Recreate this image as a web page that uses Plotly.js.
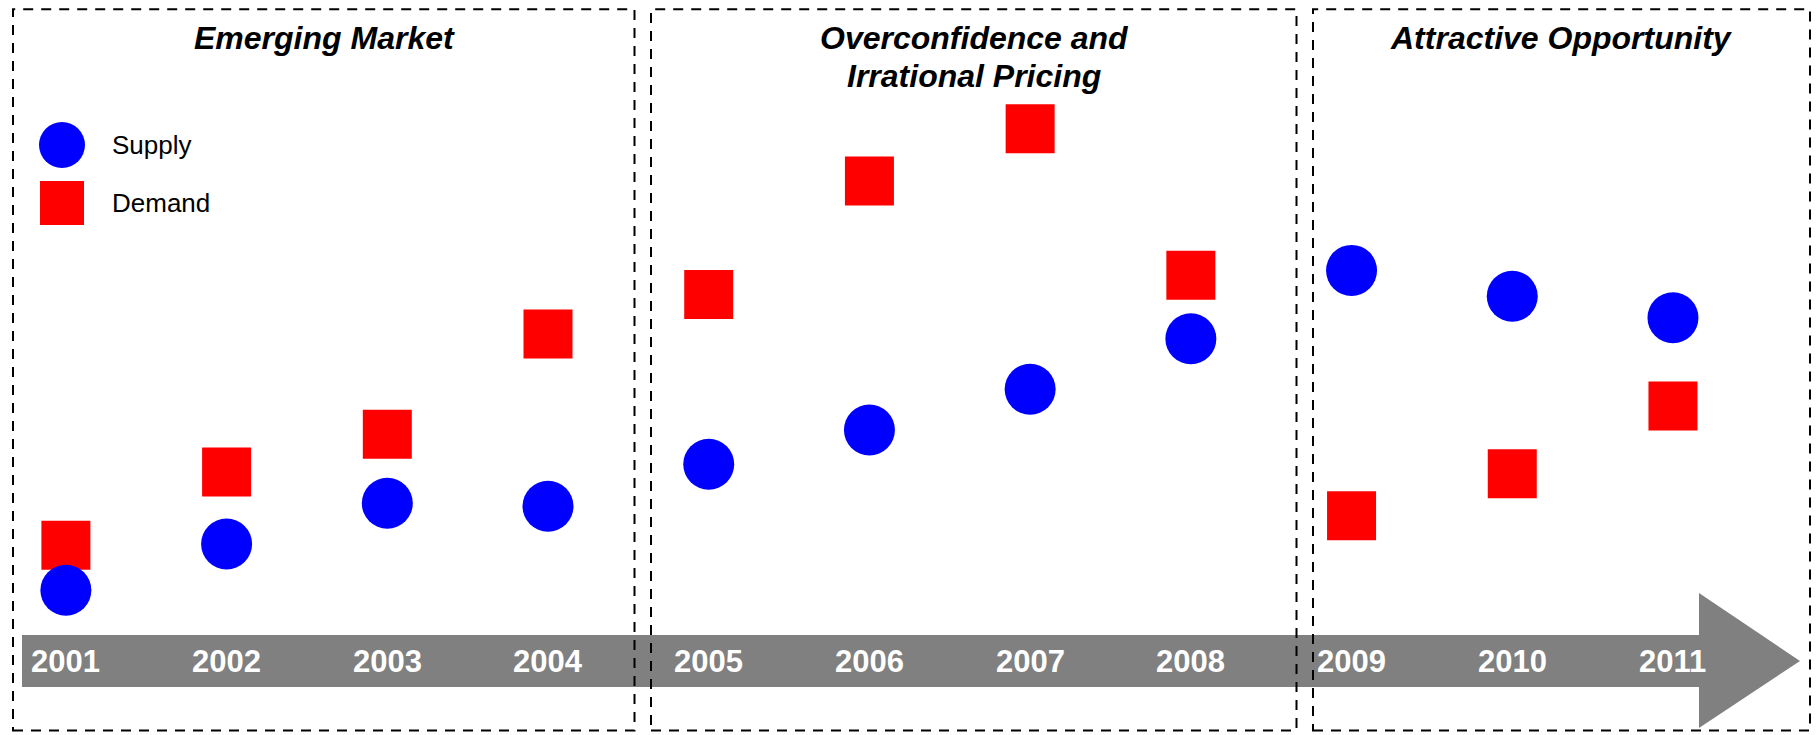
<!DOCTYPE html>
<html>
<head>
<meta charset="utf-8">
<script src="https://cdn.plot.ly/plotly-3.0.1.min.js"></script>
<style>
  html, body { margin: 0; padding: 0; background: #ffffff; }
  #chart { width: 1816px; height: 735px; }
</style>
</head>
<body>
<div id="chart"></div>
<script>
// ---- data ----
const years = [2001, 2002, 2003, 2004, 2005, 2006, 2007, 2008, 2009, 2010, 2011];
const yearLabels = ["2001", "2002", "2003", "2004", "2005", "2006", "2007", "2008", "2009", "2010", "2011"];
const supply = [18.3, 26, 32.8, 32.3, 39.3, 45, 51.8, 60.2, 71.6, 67.3, 63.7];
const demand = [25.8, 38, 44.3, 61, 67.6, 86.5, 95.2, 70.8, 30.7, 37.7, 49];
const phaseTitles = ["Emerging Market", "Overconfidence and", "Irrational Pricing", "Attractive Opportunity"];
const seriesNames = ["Supply", "Demand"];

// ---- layout helpers (pixel -> paper) ----
const W = 1816, H = 735;
const PX = x => x / W;
const PY = y => 1 - y / H;

const FONT = "Arial, 'Liberation Sans', sans-serif";

const traces = [
  {
    type: "scatter", mode: "markers", name: seriesNames[1],
    x: years, y: demand,
    marker: { symbol: "square", size: 49, color: "#FF0000", line: { width: 0 } },
    showlegend: false, hoverinfo: "skip"
  },
  {
    type: "scatter", mode: "markers", name: seriesNames[0],
    x: years, y: supply,
    marker: { symbol: "circle", size: 51, color: "#0000FF", line: { width: 0 } },
    showlegend: false, hoverinfo: "skip"
  }
];

const dashLine = { color: "#000000", width: 2, dash: "10px,8px" };

const boxes = [
  [13, 9.3, 634.5, 730.5],
  [651, 9.3, 1296.5, 730.5],
  [1313, 9.3, 1810, 730.5]
];

const shapes = [];
// timeline arrow
shapes.push({
  type: "path", xref: "paper", yref: "paper", layer: "below",
  path: `M ${PX(22)},${PY(635)} L ${PX(1699)},${PY(635)} L ${PX(1699)},${PY(593)} L ${PX(1800)},${PY(661)} L ${PX(1699)},${PY(728)} L ${PX(1699)},${PY(687)} L ${PX(22)},${PY(687)} Z`,
  fillcolor: "#808080", line: { width: 0 }
});
// dashed phase boxes
boxes.forEach(b => shapes.push({
  type: "rect", xref: "paper", yref: "paper", layer: "below",
  x0: PX(b[0]), x1: PX(b[2]), y0: PY(b[3]), y1: PY(b[1]),
  fillcolor: "rgba(0,0,0,0)", line: dashLine
}));
// legend swatches
shapes.push({
  type: "circle", xref: "paper", yref: "paper",
  x0: PX(62 - 23), x1: PX(62 + 23), y0: PY(145 + 23), y1: PY(145 - 23),
  fillcolor: "#0000FF", line: { width: 0 }
});
shapes.push({
  type: "rect", xref: "paper", yref: "paper",
  x0: PX(62 - 22), x1: PX(62 + 22), y0: PY(203 + 22), y1: PY(203 - 22),
  fillcolor: "#FF0000", line: { width: 0 }
});

const annotations = [];
// year labels on the arrow
years.forEach((yr, i) => annotations.push({
  x: yr, xref: "x", y: PY(661), yref: "paper",
  text: yearLabels[i], showarrow: false, xanchor: "center", yanchor: "middle",
  font: { family: FONT, size: 31, color: "#FFFFFF", weight: "bold" }
}));
// phase titles
const titlePos = [[324, 38], [974, 38], [974, 76], [1561, 38]];
phaseTitles.forEach((t, i) => annotations.push({
  x: PX(titlePos[i][0]), xref: "paper", y: PY(titlePos[i][1]), yref: "paper",
  text: t, showarrow: false, xanchor: "center", yanchor: "middle",
  font: { family: FONT, size: 32, color: "#000000", weight: "bold", style: "italic" }
}));
// legend labels
[[seriesNames[0], 145], [seriesNames[1], 203]].forEach(([t, y]) => annotations.push({
  x: PX(110), xref: "paper", y: PY(y), yref: "paper",
  text: t, showarrow: false, xanchor: "left", yanchor: "middle",
  font: { family: FONT, size: 26, color: "#000000" }
}));

const layout = {
  width: W, height: H,
  margin: { l: 0, r: 0, t: 0, b: 0, pad: 0 },
  paper_bgcolor: "#FFFFFF", plot_bgcolor: "#FFFFFF",
  xaxis: { range: [2000.590, 2011.890], visible: false, fixedrange: true },
  yaxis: { range: [-5.833, 116.667], visible: false, fixedrange: true },
  showlegend: false,
  shapes: shapes,
  annotations: annotations
};

Plotly.newPlot("chart", traces, layout, { staticPlot: true, displayModeBar: false });
</script>
</body>
</html>
